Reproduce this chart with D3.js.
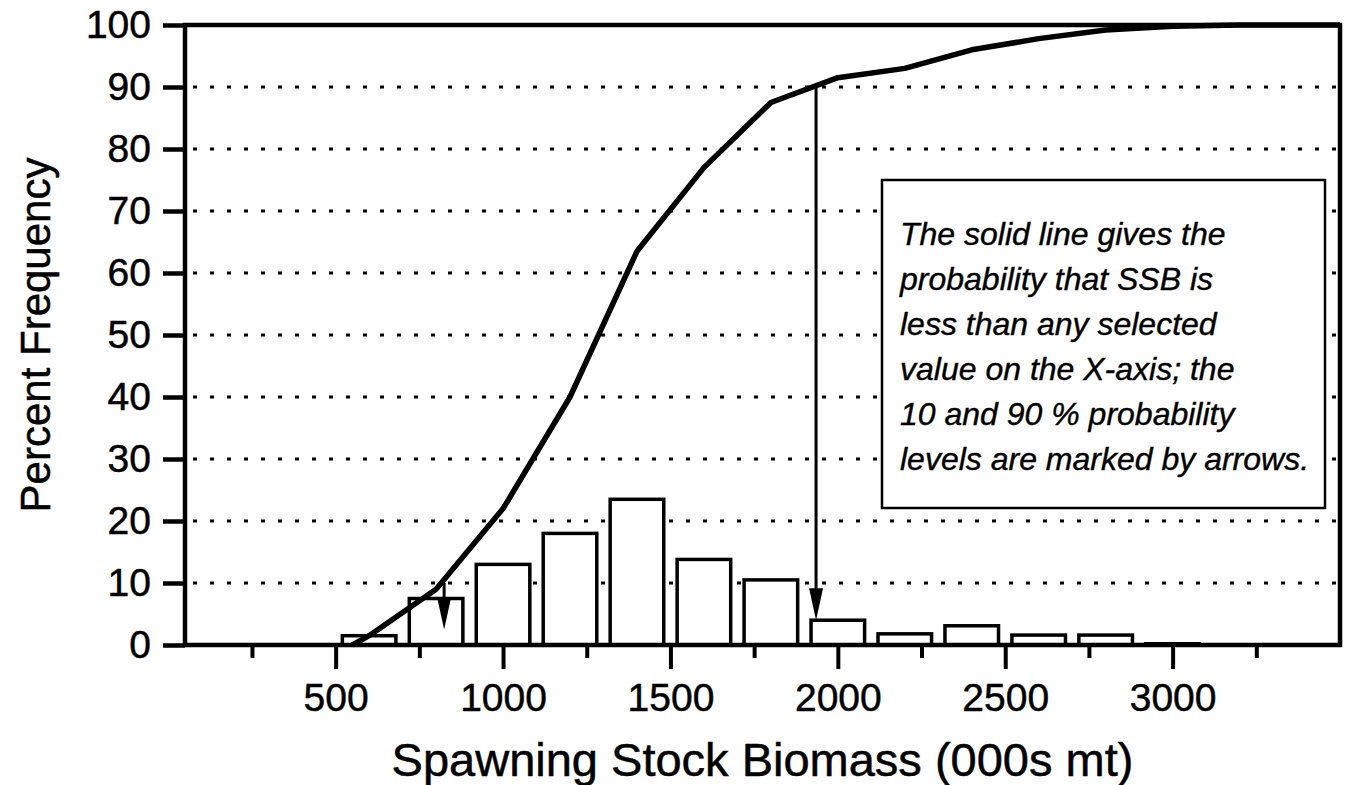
<!DOCTYPE html>
<html>
<head>
<meta charset="utf-8">
<script src="https://cdn.jsdelivr.net/npm/d3@7"></script>
<style>
  body { margin: 0; background: #fff; }
  svg { display: block; font-family: "Liberation Sans", Arial, Helvetica, sans-serif; }
</style>
</head>
<body>
<div id="chart"></div>
<script>
// histogram bins (bin centre, 000s mt) and percent frequency
const binCentres = [600, 800, 1000, 1200, 1400, 1600, 1800, 2000, 2200, 2400, 2600, 2800, 3000];
const binPercent = [1.5, 7.5, 13, 18, 23.5, 13.8, 10.5, 4, 1.8, 3.1, 1.6, 1.6, 0.2];

// cumulative curve
const cumX = [550, 600, 800, 1000, 1200, 1400, 1600, 1800, 2000, 2200, 2400, 2600, 2800, 3000, 3200, 3500];
const cumY = [0, 1.5, 9, 22, 40, 63.5, 77, 87.5, 91.5, 93, 96, 97.8, 99.2, 99.8, 100, 100];

// 10 and 90 % probability arrows
const arrowX = [824, 1935];
const arrowLevel = [10, 90];
const arrowTip = [2.5, 4];

const yTicks = [0, 10, 20, 30, 40, 50, 60, 70, 80, 90, 100];
const gridLevels = [10, 20, 30, 40, 50, 60, 70, 80, 90];
const xMajorTicks = [500, 1000, 1500, 2000, 2500, 3000];
const xMinorTicks = [250, 750, 1250, 1750, 2250, 2750, 3250];

const noteLines = [
  "The solid line gives the",
  "probability that SSB is",
  "less than any selected",
  "value on the X-axis; the",
  "10 and 90 % probability",
  "levels are marked by arrows."
];

const width = 1345, height = 785;
const margin = { top: 25, right: 5, bottom: 140, left: 185 };

const svg = d3.select("#chart").append("svg")
  .attr("width", width)
  .attr("height", height);

const x = d3.scaleLinear().domain([50, 3500]).range([margin.left, width - margin.right]);
const y = d3.scaleLinear().domain([0, 100]).range([height - margin.bottom, margin.top]);

// dotted grid lines
svg.append("g")
  .selectAll("line")
  .data(gridLevels)
  .join("line")
  .attr("x1", x(50) + 8)
  .attr("x2", x(3500) - 4)
  .attr("y1", d => y(d))
  .attr("y2", d => y(d))
  .attr("stroke", "#000")
  .attr("stroke-width", 3)
  .attr("stroke-dasharray", "4 13");

// histogram bars
const barWidth = x(210) - x(50);
svg.append("g")
  .selectAll("rect")
  .data(binCentres)
  .join("rect")
  .attr("x", d => x(d) - barWidth / 2)
  .attr("width", barWidth)
  .attr("y", (d, i) => y(binPercent[i]))
  .attr("height", (d, i) => y(0) - y(binPercent[i]))
  .attr("fill", "#fff")
  .attr("stroke", "#000")
  .attr("stroke-width", 3.5);

// text box
const boxX = 882, boxY = 180, boxW = 443, boxH = 328;
svg.append("rect")
  .attr("x", boxX)
  .attr("y", boxY)
  .attr("width", boxW)
  .attr("height", boxH)
  .attr("fill", "#fff")
  .attr("stroke", "#000")
  .attr("stroke-width", 2.5);

svg.append("g")
  .selectAll("text")
  .data(noteLines)
  .join("text")
  .attr("x", boxX + 18)
  .attr("y", (d, i) => boxY + 65 + i * 45)
  .attr("font-size", 32)
  .attr("font-style", "italic")
  .attr("stroke", "#000")
  .attr("stroke-width", 0.4)
  .text(d => d);

// cumulative curve
const line = d3.line()
  .x(d => x(d[0]))
  .y(d => y(d[1]));

svg.append("path")
  .datum(cumX.map((v, i) => [v, cumY[i]]))
  .attr("d", line)
  .attr("fill", "none")
  .attr("stroke", "#000")
  .attr("stroke-width", 5.5)
  .attr("stroke-linejoin", "round");

// arrows
arrowX.forEach(function(ax, i) {
  const px = x(ax);
  const tip = y(arrowTip[i]);
  const headLen = 32, headW = 7;
  svg.append("line")
    .attr("x1", px).attr("x2", px)
    .attr("y1", y(arrowLevel[i]))
    .attr("y2", tip - headLen + 2)
    .attr("stroke", "#000")
    .attr("stroke-width", 3);
  svg.append("path")
    .attr("d", `M${px - headW},${tip - headLen} L${px + headW},${tip - headLen} L${px},${tip} Z`)
    .attr("fill", "#000");
});

// frame
svg.append("rect")
  .attr("x", x(50))
  .attr("y", y(100))
  .attr("width", x(3500) - x(50))
  .attr("height", y(0) - y(100))
  .attr("fill", "none")
  .attr("stroke", "#000")
  .attr("stroke-width", 4.5);

// y axis
const yAxis = d3.axisLeft(y)
  .tickValues(yTicks)
  .tickSize(22)
  .tickPadding(12)
  .tickFormat(d3.format("d"));

svg.append("g")
  .attr("transform", `translate(${x(50)},0)`)
  .call(yAxis)
  .call(g => g.select(".domain").remove())
  .call(g => g.selectAll(".tick line").attr("stroke-width", 4.5))
  .call(g => g.selectAll(".tick text")
    .attr("font-size", 39)
    .attr("font-family", "Liberation Sans, Arial, sans-serif")
    .attr("fill", "#000")
    .attr("stroke", "#000")
    .attr("stroke-width", 0.5));

// x axis: major and minor ticks
svg.append("g")
  .attr("transform", `translate(0,${y(0)})`)
  .call(d3.axisBottom(x).tickValues(xMinorTicks).tickSize(13).tickFormat(""))
  .call(g => g.select(".domain").remove())
  .call(g => g.selectAll(".tick line").attr("stroke-width", 4));

svg.append("g")
  .attr("transform", `translate(0,${y(0)})`)
  .call(d3.axisBottom(x).tickValues(xMajorTicks).tickSize(24).tickPadding(14).tickFormat(d3.format("d")))
  .call(g => g.select(".domain").remove())
  .call(g => g.selectAll(".tick line").attr("stroke-width", 4))
  .call(g => g.selectAll(".tick text")
    .attr("font-size", 39)
    .attr("font-family", "Liberation Sans, Arial, sans-serif")
    .attr("fill", "#000")
    .attr("stroke", "#000")
    .attr("stroke-width", 0.5));

// axis titles
svg.append("text")
  .attr("x", (x(50) + x(3500)) / 2)
  .attr("y", 776)
  .attr("text-anchor", "middle")
  .attr("font-size", 47)
  .attr("stroke", "#000")
  .attr("stroke-width", 0.5)
  .text("Spawning Stock Biomass (000s mt)");

svg.append("text")
  .attr("transform", `translate(50,${(y(0) + y(100)) / 2}) rotate(-90)`)
  .attr("text-anchor", "middle")
  .attr("font-size", 42)
  .attr("stroke", "#000")
  .attr("stroke-width", 0.5)
  .text("Percent Frequency");
</script>
</body>
</html>
